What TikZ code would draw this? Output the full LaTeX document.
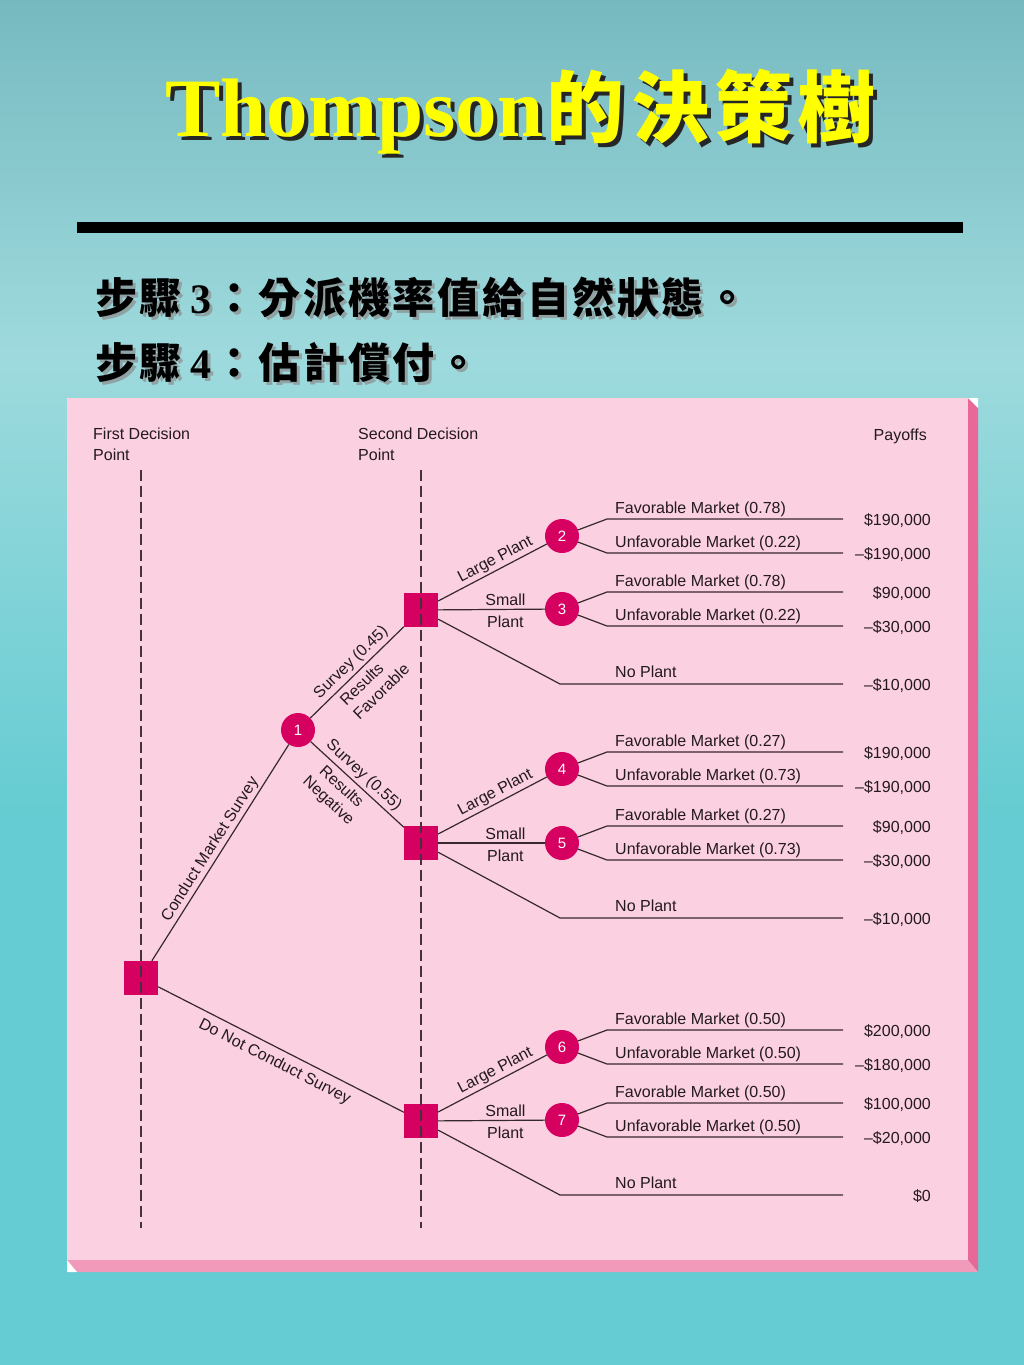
\documentclass[tikz,border=0pt]{standalone}
\usepackage{fontspec}
\setmainfont{Liberation Sans}
\newfontfamily\tnr{Liberation Serif}
\newfontfamily\cjk{Noto Sans CJK TC}
\newcommand\gs{\hspace{2.8pt}}
\usetikzlibrary{calc}
\definecolor{bgtop}{RGB}{118,186,192}
\definecolor{bgmid}{RGB}{158,218,221}
\definecolor{bgbot}{RGB}{100,204,210}
\definecolor{nodecol}{RGB}{214,0,96}
\definecolor{linecol}{RGB}{55,40,48}
\definecolor{guidecol}{RGB}{70,50,60}
\definecolor{txtcol}{RGB}{35,25,30}
\definecolor{pinkf}{RGB}{251,208,224}
\definecolor{pinkr}{RGB}{232,104,152}
\definecolor{pinkb}{RGB}{241,154,186}
\definecolor{titley}{RGB}{255,255,0}
\pgfdeclareverticalshading{bgshade}{100bp}{color(0bp)=(bgbot); color(25bp)=(bgbot); color(45bp)=(bgbot); color(62bp)=(bgmid); color(75bp)=(bgtop); color(100bp)=(bgtop)}
\newcommand\mybranches[6]{%
  \coordinate (#1ka) at (607,#2-17);
  \coordinate (#1ea) at (843,#2-17);
  \coordinate (#1kb) at (607,#2+17);
  \coordinate (#1eb) at (843,#2+17);
  \draw[br] (#1) -- (#1ka) -- (#1ea);
  \draw[br] (#1) -- (#1kb) -- (#1eb);
  \node[lbl, inner sep=0, anchor=base west] (#1fl) at (615,#2-23) {Favorable Market (#3)};
  \node[lbl, inner sep=0, anchor=base west] (#1ul) at (615,#2+11) {Unfavorable Market (#4)};
  \node[lbl, inner sep=0, anchor=base east] (#1fp) at (931,#2-11) {#5};
  \node[lbl, inner sep=0, anchor=base east] (#1up) at (931,#2+23) {#6};
}
\newcommand\noplant[3]{%
  \coordinate (#1n) at (560,#2);
  \coordinate (#1ne) at (843,#2);
  \draw[br] (#1) -- (#1n) -- (#1ne);
  \node[lbl, inner sep=0, anchor=base west] (#1nl) at (615,#2-7) {No Plant};
  \node[lbl, inner sep=0, anchor=base east] (#1np) at (931,#2+6) {#3};
}
\newcommand\plants[3]{%
  \draw[br] (#1) -- node[lbl, sloped, above, pos=0.57] (#1lp) {Large Plant} (#2);
  \draw[br] (#1) -- node[lbl, above=1pt, pos=0.63] (#1sp) {Small} node[lbl, below=4pt, pos=0.63] (#1pp) {Plant} (#3);
}
\begin{document}
\begin{tikzpicture}[x=1pt,y=-1pt,
  dec/.style={rectangle, fill=nodecol, minimum size=34pt, inner sep=0},
  chance/.style={circle, fill=nodecol, minimum size=34pt, inner sep=0, text=white, font=\fontsize{15}{15}\selectfont},
  br/.style={draw=linecol, line width=1.2pt},
  lbl/.style={font=\fontsize{16}{19}\selectfont, text=txtcol, inner sep=2pt},
  guide/.style={draw=guidecol, line width=1.1pt, dash pattern=on 11pt off 5pt},
  hdr/.style={font=\fontsize{16}{21}\selectfont, text=txtcol, inner sep=0, align=left},
]
\useasboundingbox (0,0) rectangle (1024,1365);
\fill[shading=bgshade] (0,0) rectangle (1024,1365);
% title
\node[anchor=base west, inner sep=0, text=black!85] (titlesh) at (169,140) {\fontsize{83}{83}\selectfont\tnr\bfseries Thompson\cjk\fontsize{78}{78}\selectfont\hspace{3pt}的\hspace{7pt}決\hspace{5pt}策\hspace{5pt}樹};
\node[anchor=base west, inner sep=0, text=titley] (title) at (165,136) {\fontsize{83}{83}\selectfont\tnr\bfseries Thompson\cjk\fontsize{78}{78}\selectfont\hspace{3pt}的\hspace{7pt}決\hspace{5pt}策\hspace{5pt}樹};
\fill[black] (77,222) rectangle (963,233);
% subtitles
\node[anchor=base west, inner sep=0, text=black!45, opacity=0.7] (st1s) at (98,316) {\fontsize{42}{42}\selectfont\cjk\bfseries 步\gs 驟\hspace{8pt}{\tnr 3}\gs：\gs 分\gs 派\gs 機\gs 率\gs 值\gs 給\gs 自\gs 然\gs 狀\gs 態\gs 。};
\node[anchor=base west, inner sep=0, text=black] (st1) at (95,313) {\fontsize{42}{42}\selectfont\cjk\bfseries 步\gs 驟\hspace{8pt}{\tnr 3}\gs：\gs 分\gs 派\gs 機\gs 率\gs 值\gs 給\gs 自\gs 然\gs 狀\gs 態\gs 。};
\node[anchor=base west, inner sep=0, text=black!45, opacity=0.7] (st2s) at (98,381) {\fontsize{42}{42}\selectfont\cjk\bfseries 步\gs 驟\hspace{8pt}{\tnr 4}\gs：\gs 估\gs 計\gs 償\gs 付\gs 。};
\node[anchor=base west, inner sep=0, text=black] (st2) at (95,378) {\fontsize{42}{42}\selectfont\cjk\bfseries 步\gs 驟\hspace{8pt}{\tnr 4}\gs：\gs 估\gs 計\gs 償\gs 付\gs 。};
% panel
\fill[pinkr] (968,398) -- (978,408) -- (978,1272) -- (968,1260) -- cycle;
\fill[pinkb] (67,1260) -- (968,1260) -- (978,1272) -- (77,1272) -- cycle;
\fill[white] (968,398) -- (978,398) -- (978,408) -- cycle;
\fill[white] (67,1260) -- (77,1272) -- (67,1272) -- cycle;
\fill[pinkf] (67,398) rectangle (968,1260);
% headers
\node[hdr, anchor=north west] (h1) at (93,428) {First Decision\\Point};
\node[hdr, anchor=north west] (h2) at (358,428) {Second Decision\\Point};
\node[hdr, anchor=base east] (h3) at (927,440) {Payoffs};
% nodes
\node[dec] (s1) at (141,978) {};
\node[chance] (c1) at (298,730) {1};
\node[dec] (sA) at (421,610) {};
\node[dec] (sB) at (421,843) {};
\node[dec] (sC) at (421,1121) {};
\node[chance] (c2) at (562,536) {2};
\node[chance] (c3) at (562,609) {3};
\node[chance] (c4) at (562,769) {4};
\node[chance] (c5) at (562,843) {5};
\node[chance] (c6) at (562,1047) {6};
\node[chance] (c7) at (562,1120) {7};
% guides
\coordinate (g1t) at (141,470); \coordinate (g1b) at (141,1228);
\coordinate (g2t) at (421,470); \coordinate (g2b) at (421,1228);
\draw[guide] (g1t) -- (g1b);
\draw[guide] (g2t) -- (g2b);
% first level
\draw[br] (s1) -- node[lbl, sloped, above, pos=0.49] (lcms) {Conduct Market Survey} (c1);
\draw[br] (s1) -- node[lbl, sloped, below=4pt, pos=0.5] (ldnc) {Do Not Conduct Survey} (sC);
\draw[br] (c1) -- node[lbl, sloped, above=1pt, pos=0.52] (ls45) {Survey (0.45)} node[lbl, sloped, below=3pt, pos=0.53, align=left] (lrf) {Results\\Favorable} (sA);
\draw[br] (c1) -- node[lbl, sloped, above=1pt, pos=0.49] (ls55) {Survey (0.55)} node[lbl, sloped, below=3pt, pos=0.42, align=center] (lrn) {Results\\Negative} (sB);
% second level
\plants{sA}{c2}{c3}
\plants{sB}{c4}{c5}
\plants{sC}{c6}{c7}
\mybranches{c2}{536}{0.78}{0.22}{\$190,000}{--\$190,000}
\mybranches{c3}{609}{0.78}{0.22}{\$90,000}{--\$30,000}
\noplant{sA}{684}{--\$10,000}
\mybranches{c4}{769}{0.27}{0.73}{\$190,000}{--\$190,000}
\mybranches{c5}{843}{0.27}{0.73}{\$90,000}{--\$30,000}
\noplant{sB}{918}{--\$10,000}
\mybranches{c6}{1047}{0.50}{0.50}{\$200,000}{--\$180,000}
\mybranches{c7}{1120}{0.50}{0.50}{\$100,000}{--\$20,000}
\noplant{sC}{1195}{\$0}
\end{tikzpicture}
\end{document}
